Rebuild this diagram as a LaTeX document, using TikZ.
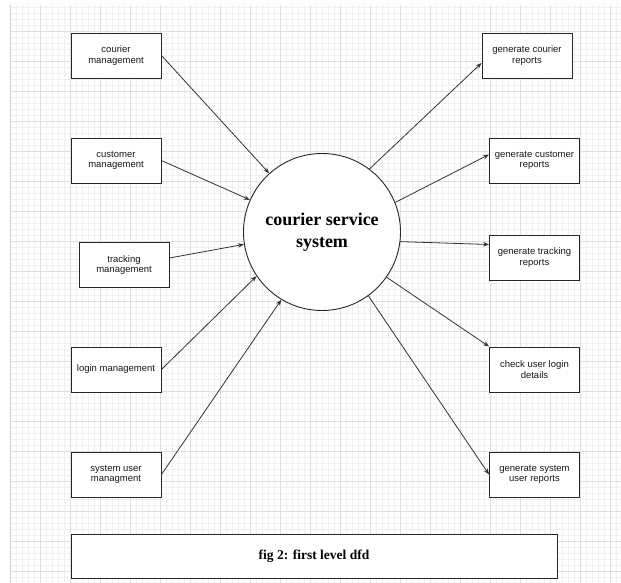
\documentclass[tikz,border=0pt]{standalone}
\usepackage{fontspec}
\setmainfont{Liberation Serif}
\setsansfont{Liberation Sans}
\usetikzlibrary{arrows.meta,calc}

\begin{document}
\begin{tikzpicture}[x=1pt,y=-1pt,
  box/.style={draw=black!85, line width=0.9pt, fill=white, minimum width=90pt,
    minimum height=45pt, align=center, inner sep=2pt,
    font=\sffamily\fontsize{9.5}{10.8}\selectfont, text=black!90},
  flow/.style={draw=black!80, line width=0.8pt, -{Stealth[length=6pt,width=4.5pt]}},
  minorline/.style={black!6, line width=0.5pt},
  majorline/.style={black!13, line width=0.6pt},
]
\useasboundingbox (0,0) rectangle (621,583);
\fill[white] (0,0) rectangle (621,583);
% background grid
\foreach \x in {10,16,...,621} \draw[minorline] (\x,5) -- (\x,583);
\foreach \y in {7,13,...,583} \draw[minorline] (10,\y) -- (621,\y);
\foreach \x in {40,70,...,621} \draw[majorline] (\x,5) -- (\x,583);
\foreach \y in {31,61,...,583} \draw[majorline] (10,\y) -- (621,\y);
\draw[black!18, line width=1pt] (10,5) -- (10,583);

% left boxes
\node[box] (cm)    at (116,55.5)  {courier\\management};
\node[box] (cust)  at (116,160.5) {customer\\management};
\node[box] (track) at (124,265)   {tracking\\management};
\node[box] (login) at (116,369.5) {login management};
\node[box] (sysu)  at (116,474.5) {system user\\managment};

% right boxes
\node[box] (gcr) at (527,55.5)   {generate courier\\reports};
\node[box] (gcu) at (534.5,160.5) {generate customer\\reports};
\node[box] (gtr) at (534.5,257.5) {generate tracking\\reports};
\node[box] (chk) at (534.5,369.5) {check user login\\details};
\node[box] (gsu) at (534.5,474.5) {generate system\\user reports};

% central process
\node[circle, draw=black!85, line width=0.9pt, fill=white, minimum size=157pt,
  inner sep=0pt, align=center, font=\bfseries\fontsize{18}{22}\selectfont]
  (c) at (322,232) {courier service\\system};

% caption box
\node[draw=black!85, line width=0.9pt, fill=white, minimum width=486pt,
  minimum height=44pt, font=\bfseries\fontsize{13.5}{16}\selectfont]
  (fig) at (314,556) {fig 2: first level dfd};

% flows in
\draw[flow] (cm.east) -- (c.132.5);
\draw[flow] (cust.east) -- (c.156);
\draw[flow] ($(track.east)+(0,-7)$) -- (c.189.3);
\draw[flow] (login.east) -- (c.214.7);
\draw[flow] (sysu.east) -- (c.239.5);

% flows out
\draw[flow] (c.53.1) -- ($(gcr.west)+(0,7.5)$);
\draw[flow] (c.22.3) -- ($(gcu.west)+(0,-6)$);
\draw[flow] (c.-7.3) -- ($(gtr.west)+(0,-13)$);
\draw[flow] (c.-35.7) -- (chk.north west);
\draw[flow] (c.-54.7) -- (gsu.west);
\end{tikzpicture}
\end{document}
